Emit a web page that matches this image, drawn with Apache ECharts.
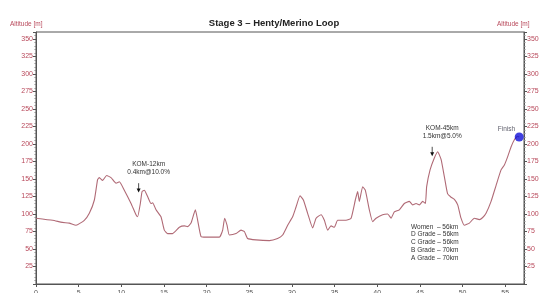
<!DOCTYPE html>
<html>
<head>
<meta charset="utf-8">
<script src="https://cdn.jsdelivr.net/npm/echarts@6/dist/echarts.min.js"></script>
<style>html,body{margin:0;padding:0;background:#fff;}#c{width:545px;height:293px;}</style>
</head>
<body>
<div id="c"></div>
<script>
var titleText = 'Stage 3 \u2013 Henty/Merino Loop';
var yAxisName = 'Altitude [m]';
var distanceKm = [0,1.95,3.08,3.90,4.69,5.66,6.25,6.84,7.22,7.42,7.81,8.28,8.79,9.38,9.77,10.35,11.14,11.72,11.91,12.23,12.43,12.70,13.08,13.48,13.67,14.07,14.65,15.04,15.43,16.01,16.80,17.39,17.77,18.17,18.68,18.95,19.34,19.93,21.49,21.88,22.11,22.39,22.66,23.45,24.03,24.42,24.81,25.79,27.35,28.32,28.91,29.50,30.08,30.48,30.95,31.34,31.84,32.43,32.83,33.41,33.80,34.19,34.58,34.97,35.36,36.34,36.93,37.43,37.70,37.90,38.29,38.60,39.07,39.46,39.86,40.63,41.22,41.62,42.00,42.59,43.17,43.76,44.15,44.55,44.94,45.32,45.64,45.79,46.19,46.69,47.08,47.48,47.87,48.24,48.65,49.04,49.43,49.82,50.21,50.80,51.38,51.97,52.36,52.75,53.34,53.93,54.51,54.90,55.29,55.69,56.07,56.46,56.64];
var altitudeM = [94,91,88,87,84,91,101,120,149,152,148,155,152,144,146,134,115,99,96,115,132,134,125,115,116,106,96,77,72,72,81,83,82,87,106,91,68,67,67,77,94,84,70,72,77,75,65,63,62,65,70,84,96,110,126,120,101,80,94,99,91,77,83,81,91,91,94,120,132,118,139,134,106,89,94,99,100,94,103,106,115,118,113,115,113,118,115,139,163,180,189,178,153,129,124,121,113,94,84,87,94,92,95,101,118,141,163,170,182,196,206,211,210];
var finishPoint = [56.64, 210];
var finishLabel = 'Finish';
var komLabels = [['KOM-12km', '0.4km@10.0%'], ['KOM-45km', '1.5km@5.0%']];
var komArrowKm = [12.03, 46.44];
var komArrowTop = [144, 196];
var komArrowBottom = [132, 184];
var gradeDistances = ['Women  \u2013 56km', 'D Grade \u2013 56km', 'C Grade \u2013 56km', 'B Grade \u2013 70km', 'A Grade \u2013 70km'];

var chart = echarts.init(document.getElementById('c'), null, {renderer: 'canvas'});
var axisRed = '#b8485a';
var lineCol = '#b06a76';
var axisCol = '#555';
function yLab(v){ return (v % 25 === 0 && v > 0 && v <= 350) ? String(v) : ''; }
var yCommon = {
  type: 'value', min: 0, max: 360, interval: 25,
  axisLine: {show: true, lineStyle: {color: axisCol, width: 1}},
  axisTick: {show: true, length: 3, lineStyle: {color: axisCol}},
  minorTick: {show: true, splitNumber: 5, length: 1.5, lineStyle: {color: '#888'}},
  splitLine: {show: false},
  axisLabel: {color: axisRed, fontSize: 7, fontFamily: 'Liberation Sans, Arial', margin: 3, formatter: yLab, showMaxLabel: false}
};
var data = distanceKm.map(function(d, i){ return [d, altitudeM[i]]; });
chart.setOption({
  animation: false,
  backgroundColor: '#fff',
  title: {text: titleText, left: 269, top: 13, textAlign: 'center',
    textStyle: {fontSize: 9.5, fontWeight: 'bold', color: '#222', fontFamily: 'Liberation Sans, Arial'}},
  grid: {left: 36, right: 21, top: 32, bottom: 9, containLabel: false, outerBoundsMode: 'none',
    show: true, borderColor: axisCol, borderWidth: 1},
  xAxis: {type: 'value', min: 0, max: 57.2, interval: 5,
    axisLine: {show: true, onZero: false, lineStyle: {color: axisCol}},
    axisTick: {show: true, length: 3, lineStyle: {color: axisCol}},
    minorTick: {show: false},
    splitLine: {show: false},
    axisLabel: {color: '#555', fontSize: 7, margin: 6, showMaxLabel: false, fontFamily: 'Liberation Sans, Arial'}},
  yAxis: [
    Object.assign({}, yCommon, {position: 'left'}),
    Object.assign({}, yCommon, {position: 'right'})
  ],
  series: [
    {type: 'line', data: data, showSymbol: false, smooth: 0.15,
     lineStyle: {color: lineCol, width: 1.1}, z: 3},
    {type: 'scatter', data: [finishPoint], symbolSize: 9,
     itemStyle: {color: '#1010d8'}, z: 5,
     label: {show: true, formatter: finishLabel, position: [-17, -7], color: '#334', fontSize: 6.5, fontFamily: 'Liberation Sans, Arial'}}
  ]
});

var g = [];
komLabels.forEach(function(lbl, i){
  var top = chart.convertToPixel({gridIndex: 0}, [komArrowKm[i], komArrowTop[i]]);
  var bot = chart.convertToPixel({gridIndex: 0}, [komArrowKm[i], komArrowBottom[i]]);
  g.push({type: 'line', shape: {x1: top[0], y1: top[1], x2: bot[0], y2: bot[1] - 2}, style: {stroke: '#222', lineWidth: 0.8}, z: 10});
  g.push({type: 'polygon', shape: {points: [[bot[0]-2, bot[1]-3], [bot[0]+2, bot[1]-3], [bot[0], bot[1]+1]]}, style: {fill: '#111'}, z: 10});
  g.push({type: 'text', x: top[0] + 10, y: top[1] - 15, style: {text: lbl[0] + '\n' + lbl[1], align: 'center', verticalAlign: 'middle', fontSize: 6.5, lineHeight: 8, fill: '#333', fontFamily: 'Liberation Sans, Arial'}, z: 10});
});
g.push({type: 'text', left: 411, top: 223, style: {text: gradeDistances.join('\n'), fontSize: 6.5, lineHeight: 7.75, fill: '#333', fontFamily: 'Liberation Sans, Arial'}, z: 10});
g.push({type: 'text', left: 10, top: 21, style: {text: yAxisName, fontSize: 6.5, fill: axisRed, fontFamily: 'Liberation Sans, Arial'}});
g.push({type: 'text', left: 497, top: 21, style: {text: yAxisName, fontSize: 6.5, fill: axisRed, fontFamily: 'Liberation Sans, Arial'}});
chart.setOption({graphic: g});
</script>
</body>
</html>
